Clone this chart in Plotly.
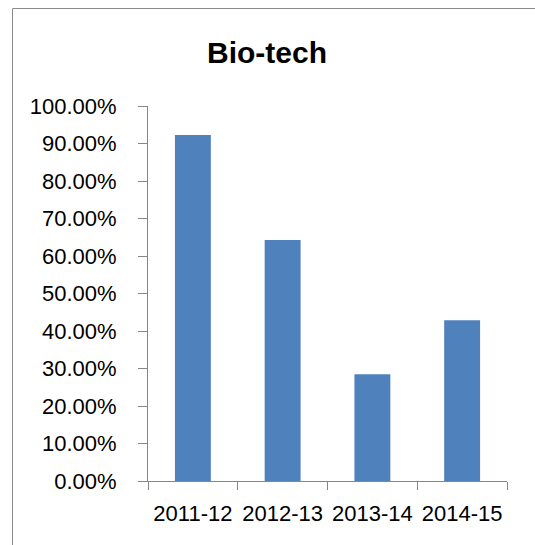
import plotly.graph_objects as go

# 数据
years = ["2011-12", "2012-13", "2013-14", "2014-15"]
share = [0.923, 0.643, 0.285, 0.429]
y_ticks = [0, 0.1, 0.2, 0.3, 0.4, 0.5, 0.6, 0.7, 0.8, 0.9, 1.0]

AXIS_GRAY = "#868686"
FRAME_GRAY = "#8c8c8c"
W, H = 535, 545
# 绘图区：x 148~507，y 106~481（像素）
L, T = 148, 106
R = W - 507
B = H - 481
pw, ph = W - L - R, H - T - B

fig = go.Figure(
    go.Bar(
        x=years,
        y=share,
        marker=dict(color="#4F81BD", line=dict(width=0)),
        hoverinfo="x+y",
    )
)

fig.update_layout(
    width=W,
    height=H,
    margin=dict(l=L, r=R, t=T, b=B),
    paper_bgcolor="white",
    plot_bgcolor="white",
    bargap=0.6,
    showlegend=False,
    font=dict(family="Liberation Sans, Arial, sans-serif", size=22, color="black"),
    title=dict(
        text="<b>Bio-tech</b>",
        x=267 / W,
        xref="container",
        xanchor="center",
        y=1 - 52 / H,
        yref="container",
        yanchor="middle",
        font=dict(size=30, color="black"),
    ),
    xaxis=dict(
        type="category",
        automargin=False,
        tickangle=0,
        showline=True,
        linecolor=AXIS_GRAY,
        linewidth=1,
        ticks="outside",
        tickson="boundaries",
        ticklen=8,
        tickcolor=AXIS_GRAY,
        showgrid=False,
        ticklabelstandoff=13,
    ),
    yaxis=dict(
        range=[0, 1],
        automargin=False,
        tickvals=y_ticks,
        tickformat=".2%",
        showline=True,
        linecolor=AXIS_GRAY,
        linewidth=1,
        ticks="outside",
        ticklen=9,
        tickcolor=AXIS_GRAY,
        showgrid=False,
        zeroline=False,
        ticklabelstandoff=17,
    ),
)

# 外框：参考图只露出左边和上边
fx = (12.5 - L) / pw
fy = 1 + (T - 8.5) / ph
fig.add_shape(type="line", xref="paper", yref="paper",
              x0=fx, x1=fx, y0=fy, y1=1 - (H + 5 - T) / ph,
              line=dict(color=FRAME_GRAY, width=1), layer="below")
fig.add_shape(type="line", xref="paper", yref="paper",
              x0=fx, x1=(W + 5 - L) / pw, y0=fy, y1=fy,
              line=dict(color=FRAME_GRAY, width=1), layer="below")

# 去掉 body 默认的 8px 边距，让图正好铺满窗口；不显示工具栏
fig.write_html(
    "out.html",
    config={"displayModeBar": False},
    post_script="document.body.style.margin='0';",
)
